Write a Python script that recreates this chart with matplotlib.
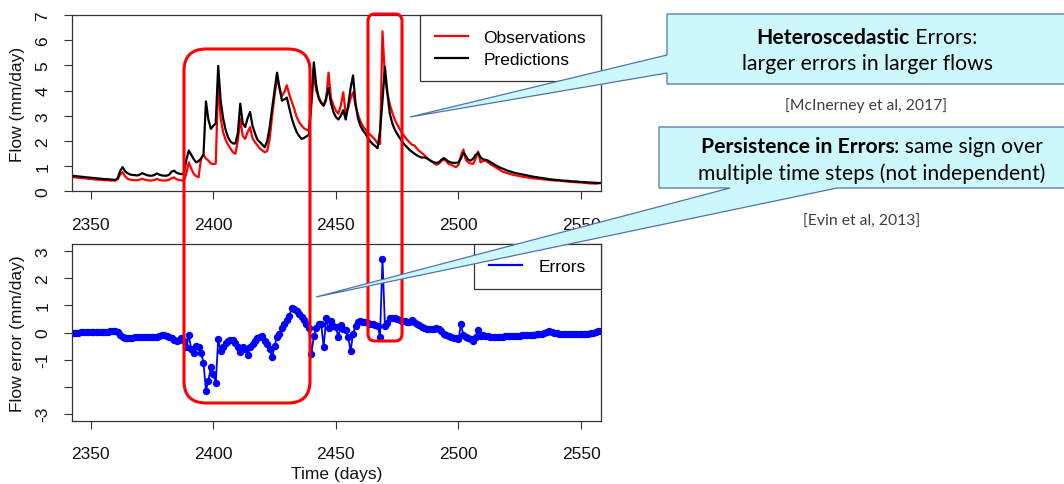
import numpy as np
import matplotlib.pyplot as plt
from matplotlib.lines import Line2D
from matplotlib.patches import FancyBboxPatch, Polygon

# daily series, day 2342 .. 2558
first_day = 2342

observed = [
    0.57, 0.56, 0.55, 0.54, 0.53, 0.52, 0.51, 0.50, 0.49, 0.48,
    0.47, 0.46, 0.46, 0.45, 0.44, 0.44, 0.43, 0.43, 0.42, 0.48,
    0.66, 0.76, 0.60, 0.50, 0.46, 0.45, 0.44, 0.44, 0.46, 0.50,
    0.46, 0.44, 0.43, 0.43, 0.45, 0.49, 0.45, 0.43, 0.43, 0.43,
    0.46, 0.52, 0.55, 0.48, 0.45, 0.43, 0.42, 0.70, 1.15, 0.90,
    0.70, 0.60, 0.56, 1.30, 1.45, 1.30, 1.22, 1.10, 1.08, 1.10,
    4.40, 2.90, 2.35, 2.05, 1.85, 1.70, 1.55, 1.49, 2.00, 2.88,
    2.20, 2.08, 2.35, 2.55, 2.10, 1.95, 1.82, 1.70, 1.62, 1.55,
    1.60, 2.08, 3.00, 3.80, 4.54, 4.10, 3.78, 3.95, 4.21, 3.84,
    3.55, 3.28, 2.95, 2.75, 2.61, 2.50, 2.45, 2.40, 3.40, 4.65,
    4.00, 3.75, 3.55, 3.40, 3.60, 4.71, 3.70, 3.41, 3.20, 3.08,
    3.40, 3.93, 3.08, 3.30, 3.70, 3.93, 3.40, 3.05, 2.78, 2.58,
    2.45, 2.33, 2.25, 2.15, 2.05, 1.90, 1.88, 6.35, 4.54, 3.90,
    3.45, 3.12, 2.85, 2.65, 2.48, 2.32, 2.18, 2.05, 1.95, 1.85,
    1.82, 1.70, 1.60, 1.52, 1.45, 1.32, 1.25, 1.20, 1.12, 1.05,
    1.10, 1.20, 1.27, 1.20, 1.08, 1.05, 1.00, 0.96, 1.05, 1.42,
    1.66, 1.25, 1.15, 1.10, 1.09, 1.30, 1.58, 1.15, 1.20, 1.22,
    1.15, 1.08, 1.02, 0.96, 0.90, 0.84, 0.78, 0.75, 0.72, 0.69,
    0.66, 0.64, 0.62, 0.60, 0.58, 0.57, 0.55, 0.54, 0.52, 0.51,
    0.50, 0.49, 0.48, 0.47, 0.46, 0.45, 0.44, 0.43, 0.42, 0.43,
    0.41, 0.40, 0.39, 0.38, 0.37, 0.37, 0.36, 0.35, 0.35, 0.34,
    0.33, 0.32, 0.31, 0.31, 0.30, 0.32, 0.33,
]

predicted = [
    0.62, 0.61, 0.60, 0.59, 0.58, 0.57, 0.56, 0.55, 0.54, 0.53,
    0.52, 0.51, 0.50, 0.49, 0.48, 0.48, 0.47, 0.46, 0.45, 0.52,
    0.80, 0.96, 0.80, 0.72, 0.67, 0.65, 0.64, 0.63, 0.66, 0.72,
    0.68, 0.64, 0.62, 0.62, 0.65, 0.71, 0.66, 0.63, 0.62, 0.62,
    0.66, 0.78, 0.82, 0.74, 0.70, 0.68, 0.72, 1.25, 1.62, 1.45,
    1.28, 1.15, 1.20, 1.30, 1.45, 3.57, 2.85, 2.48, 2.60, 2.70,
    4.98, 3.60, 2.90, 2.45, 2.15, 1.98, 1.90, 1.90, 2.30, 3.48,
    2.70, 2.55, 2.90, 3.15, 2.60, 2.30, 2.05, 1.95, 1.85, 1.75,
    2.00, 2.55, 3.30, 4.00, 4.71, 4.10, 3.60, 3.65, 3.72, 3.30,
    2.90, 2.60, 2.35, 2.20, 2.08, 2.12, 2.18, 2.25, 3.70, 5.12,
    4.20, 3.68, 3.50, 3.40, 3.70, 4.10, 3.50, 3.15, 2.95, 2.85,
    3.00, 3.22, 2.85, 3.40, 4.10, 4.60, 3.50, 2.90, 2.60, 2.42,
    2.30, 2.12, 1.98, 1.88, 1.80, 1.71, 2.40, 3.60, 4.94, 3.90,
    3.08, 2.70, 2.45, 2.28, 2.12, 1.98, 1.85, 1.75, 1.65, 1.57,
    1.50, 1.43, 1.38, 1.34, 1.34, 1.33, 1.25, 1.19, 1.15, 1.13,
    1.15, 1.25, 1.32, 1.25, 1.18, 1.14, 1.13, 1.13, 1.15, 1.30,
    1.53, 1.40, 1.25, 1.22, 1.30, 1.45, 1.52, 1.35, 1.27, 1.25,
    1.22, 1.16, 1.10, 1.04, 0.99, 0.94, 0.90, 0.86, 0.82, 0.79,
    0.76, 0.73, 0.71, 0.69, 0.67, 0.65, 0.63, 0.61, 0.59, 0.57,
    0.56, 0.54, 0.53, 0.51, 0.50, 0.48, 0.47, 0.46, 0.45, 0.44,
    0.43, 0.42, 0.42, 0.41, 0.40, 0.39, 0.39, 0.38, 0.37, 0.37,
    0.36, 0.35, 0.35, 0.34, 0.34, 0.33, 0.33,
]

errors = [
    0.00, 0.00, 0.00, 0.00, 0.01, 0.01, 0.01, 0.01, 0.01, 0.01,
    0.01, 0.02, 0.02, 0.02, 0.03, 0.03, 0.04, 0.05, 0.05, 0.02,
    -0.10, -0.18, -0.22, -0.20, -0.19, -0.19, -0.18, -0.18, -0.17, -0.17,
    -0.17, -0.17, -0.16, -0.16, -0.16, -0.15, -0.12, -0.10, -0.10, -0.12,
    -0.15, -0.22, -0.28, -0.32, -0.26, -0.21, -0.30, -0.55, -0.09, -0.62,
    -0.74, -0.49, -0.55, -0.74, -1.11, -2.15, -1.78, -1.27, -1.54, -1.87,
    -0.25, -0.68, -0.55, -0.39, -0.30, -0.28, -0.28, -0.40, -0.55, -0.72,
    -0.55, -0.62, -0.84, -0.55, -0.43, -0.33, -0.22, -0.18, -0.12, -0.30,
    -0.43, -0.60, -0.92, -0.49, -0.15, -0.06, 0.18, 0.30, 0.45, 0.60,
    0.92, 0.86, 0.80, 0.68, 0.58, 0.48, 0.31, 0.15, -0.80, -0.12,
    0.15, 0.30, 0.33, -0.55, 0.52, 0.15, 0.43, 0.25, 0.20, -0.18,
    0.28, 0.12, 0.10, -0.18, -0.68, -0.06, 0.25, 0.40, 0.42, 0.40,
    0.40, 0.36, 0.32, 0.30, 0.27, 0.25, -0.15, 2.73, 0.25, 0.35,
    0.55, 0.55, 0.53, 0.50, 0.48, 0.44, 0.42, 0.40, 0.40, 0.45,
    0.40, 0.32, 0.27, 0.22, 0.18, 0.14, 0.12, 0.13, 0.14, 0.15,
    0.14, 0.05, -0.05, -0.10, -0.13, -0.18, -0.20, -0.22, -0.25, 0.30,
    -0.10, -0.15, -0.20, -0.25, -0.31, -0.15, 0.10, -0.12, -0.10, -0.12,
    -0.14, -0.15, -0.16, -0.16, -0.15, -0.15, -0.15, -0.14, -0.14, -0.13,
    -0.13, -0.13, -0.12, -0.12, -0.11, -0.11, -0.10, -0.10, -0.09, -0.08,
    -0.07, -0.06, -0.04, -0.02, 0.02, 0.06, 0.03, 0.00, -0.02, -0.04,
    -0.05, -0.06, -0.06, -0.06, -0.06, -0.06, -0.06, -0.06, -0.06, -0.06,
    -0.05, -0.04, -0.03, -0.01, 0.02, 0.06, 0.06,
]

days = np.arange(first_day, first_day + len(observed))

x_ticks = [2350, 2400, 2450, 2500, 2550]
flow_ticks = [0, 1, 2, 3, 4, 5, 6, 7]
err_ticks = [3, 2, 1, 0, -1, -2, -3]
err_tick_labels = ['3', '2', '1', '0', '-1', '', '-3']

plt.rcParams['font.family'] = ['Liberation Sans', 'DejaVu Sans']

W, H = 1064, 485
fig = plt.figure(figsize=(W / 100, H / 100), dpi=100)


def px_axes(left, top, right, bottom, **kw):
    return fig.add_axes([left / W, 1 - bottom / H, (right - left) / W, (bottom - top) / H], **kw)


def style(ax, yticks, ylabels, ylabel):
    for s in ax.spines.values():
        s.set_linewidth(0.9)
        s.set_color('#333333')
    ax.set_xlim(2342.25, 2558)
    ax.set_xticks(x_ticks)
    ax.set_yticks(yticks, ylabels)
    ax.tick_params(length=5.5, width=0.8, color='#333333', labelsize=12.5,
                   labelcolor='#111111', pad=10)
    ax.tick_params(axis='x', pad=13)
    for t in ax.get_yticklabels():
        t.set_rotation(90)
        t.set_va('center')
    ax.set_ylabel(ylabel, fontsize=12.5, color='#111111')
    ax.yaxis.label.set_va('center')
    ax.yaxis.set_label_coords(-54 / 529, 0.5)


# top panel: flows
ax1 = px_axes(71.7, 16, 600.7, 192.3)
ax1.plot(days, observed, color='red', lw=1.6, label='Observations')
ax1.plot(days, predicted, color='black', lw=1.6, label='Predictions')
ax1.set_ylim(0, 7)
style(ax1, flow_ticks, [str(v) for v in flow_ticks], 'Flow (mm/day)')
leg1 = ax1.legend(loc='upper right', borderaxespad=0, fancybox=False, framealpha=1,
                  edgecolor='#333333', fontsize=12.5, handlelength=1.9,
                  handletextpad=0.9, borderpad=0.85, labelspacing=0.38)
leg1.get_frame().set_linewidth(0.9)

# bottom panel: errors
ax2 = px_axes(71.7, 245.3, 600.7, 421.7)
ax2.plot(days, errors, color='blue', lw=1.3, marker='o', ms=4.3)
ax2.set_ylim(-3.26, 3.26)
style(ax2, err_ticks, err_tick_labels, 'Flow error (mm/day)')
ax2.set_xlabel('Time (days)', fontsize=12.5, color='#111111')
ax2.xaxis.label.set_va('center')
ax2.xaxis.set_label_coords(0.5, -53 / 176.4)
leg2 = ax2.legend([Line2D([], [], color='blue', lw=1.6)], ['Errors'], loc='upper right',
                  borderaxespad=0, fancybox=False, framealpha=1, edgecolor='#333333',
                  fontsize=12.5, handlelength=1.9, handletextpad=0.95, borderpad=0.85)
leg2.get_frame().set_linewidth(0.9)

# overlay in pixel coordinates for the slide annotations
ov = fig.add_axes([0, 0, 1, 1], zorder=10)
ov.set_xlim(0, W)
ov.set_ylim(H, 0)
ov.axis('off')
ov.patch.set_alpha(0)

ov.add_patch(FancyBboxPatch((184, 50), 126, 354, boxstyle='round,pad=0,rounding_size=22',
                            fill=False, ec='red', lw=2.2))
ov.add_patch(FancyBboxPatch((368, 15), 34, 327, boxstyle='round,pad=0,rounding_size=7',
                            fill=False, ec='red', lw=2.2))

box_fc = '#ccf8fc'
box_ec = '#4f74aa'
ov.add_patch(Polygon([(667, 15), (1070, 15), (1070, 85), (667, 85), (667, 74),
                      (410, 118), (667, 56)], closed=True, fc=box_fc, ec=box_ec, lw=0.9))
ov.add_patch(Polygon([(659, 128), (1070, 128), (1070, 189), (837, 189), (316, 298),
                      (730, 189), (659, 189)], closed=True, fc=box_fc, ec=box_ec, lw=0.9))

slide_font = ['Lato', 'DejaVu Sans']
renderer = fig.canvas.get_renderer()


def fit_size(text, target, base=12):
    t = ov.text(0, 0, text, fontsize=base, family=slide_font)
    w = t.get_window_extent(renderer).width
    t.remove()
    return base * target / w


size_main = fit_size('multiple time steps (not independent)', 344)
size_cite = fit_size('[McInerney et al, 2017]', 162)


def mixed(xc, y, bold, rest, size):
    a = ov.text(0, y, bold, fontsize=size, family=slide_font, fontweight='bold', va='center')
    b = ov.text(0, y, rest, fontsize=size, family=slide_font, va='center')
    wa = a.get_window_extent(renderer).width
    wb = b.get_window_extent(renderer).width
    left = xc - (wa + wb) / 2
    a.set_x(left)
    b.set_x(left + wa)


mixed(867, 38, 'Heteroscedastic', ' Errors:', size_main)
ov.text(867, 64, 'larger errors in larger flows', fontsize=size_main, family=slide_font,
        ha='center', va='center')
ov.text(866, 106, '[McInerney et al, 2017]', fontsize=size_cite, family=slide_font,
        ha='center', va='center', color='#404040')
mixed(872, 147, 'Persistence in Errors', ': same sign over', size_main)
ov.text(872, 174, 'multiple time steps (not independent)', fontsize=size_main,
        family=slide_font, ha='center', va='center')
ov.text(862, 222, '[Evin et al, 2013]', fontsize=size_cite, family=slide_font,
        ha='center', va='center', color='#404040')

fig.savefig('out.png', dpi=100)
